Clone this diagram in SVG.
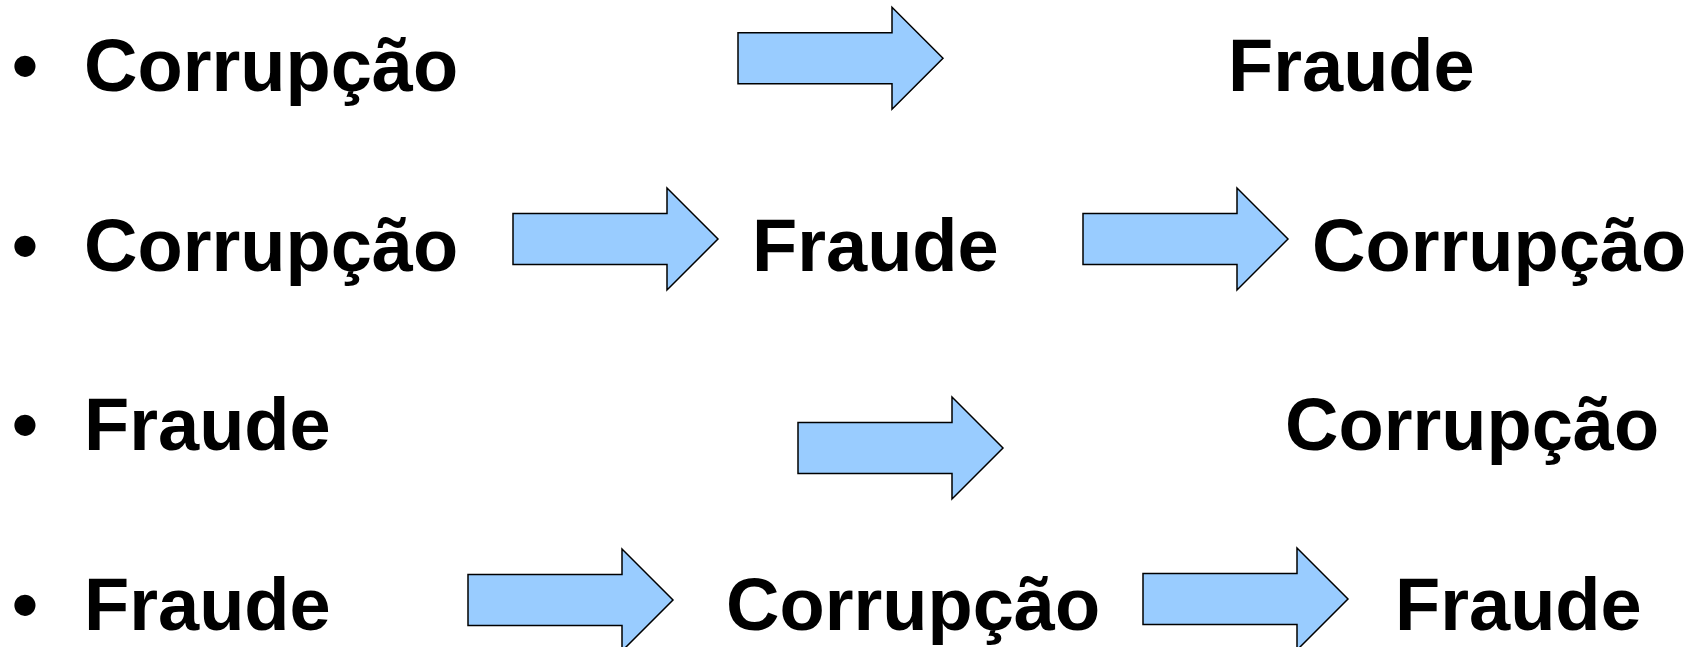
<svg xmlns="http://www.w3.org/2000/svg" width="1700" height="647" viewBox="0 0 1700 647">
  <style>
    .lbl { font-family: "Liberation Sans", Arial, sans-serif; font-weight: bold; font-size: 74px; fill: #000; }
    .arrow { fill: #99CCFF; stroke: #000; stroke-width: 1.5; stroke-linejoin: miter; }
  </style>
  <defs>
    <!-- block arrow: origin at left end of the shaft, centred vertically -->
    <path id="blockArrow" d="M0,-25.5 H154 V-51 L205,0 L154,51 V25.5 H0 Z"/>
  </defs>
  <rect width="1700" height="647" fill="#fff"/>

  <!-- row 1 -->
  <g id="row1-start"><text class="lbl" x="12" y="91">•</text><text class="lbl" x="84" y="91">Corrupção</text></g>
  <g id="row1-end"><text class="lbl" x="1228" y="91">Fraude</text></g>

  <!-- row 2 -->
  <g id="row2-start"><text class="lbl" x="12" y="271">•</text><text class="lbl" x="84" y="271">Corrupção</text></g>
  <g id="row2-mid"><text class="lbl" x="752" y="271">Fraude</text></g>
  <g id="row2-end"><text class="lbl" x="1312" y="271">Corrupção</text></g>

  <!-- row 3 -->
  <g id="row3-start"><text class="lbl" x="12" y="450">•</text><text class="lbl" x="84" y="450">Fraude</text></g>
  <g id="row3-end"><text class="lbl" x="1285" y="450">Corrupção</text></g>

  <!-- row 4 -->
  <g id="row4-start"><text class="lbl" x="12" y="630">•</text><text class="lbl" x="84" y="630">Fraude</text></g>
  <g id="row4-mid"><text class="lbl" x="726" y="630">Corrupção</text></g>
  <g id="row4-end"><text class="lbl" x="1395" y="630">Fraude</text></g>

  <g id="connectors">
    <use href="#blockArrow" class="arrow" transform="translate(738,58.2)"/>
    <use href="#blockArrow" class="arrow" transform="translate(513,239)"/>
    <use href="#blockArrow" class="arrow" transform="translate(1083,239)"/>
    <use href="#blockArrow" class="arrow" transform="translate(798,448)"/>
    <use href="#blockArrow" class="arrow" transform="translate(468,600)"/>
    <use href="#blockArrow" class="arrow" transform="translate(1143,599)"/>
  </g>
</svg>
